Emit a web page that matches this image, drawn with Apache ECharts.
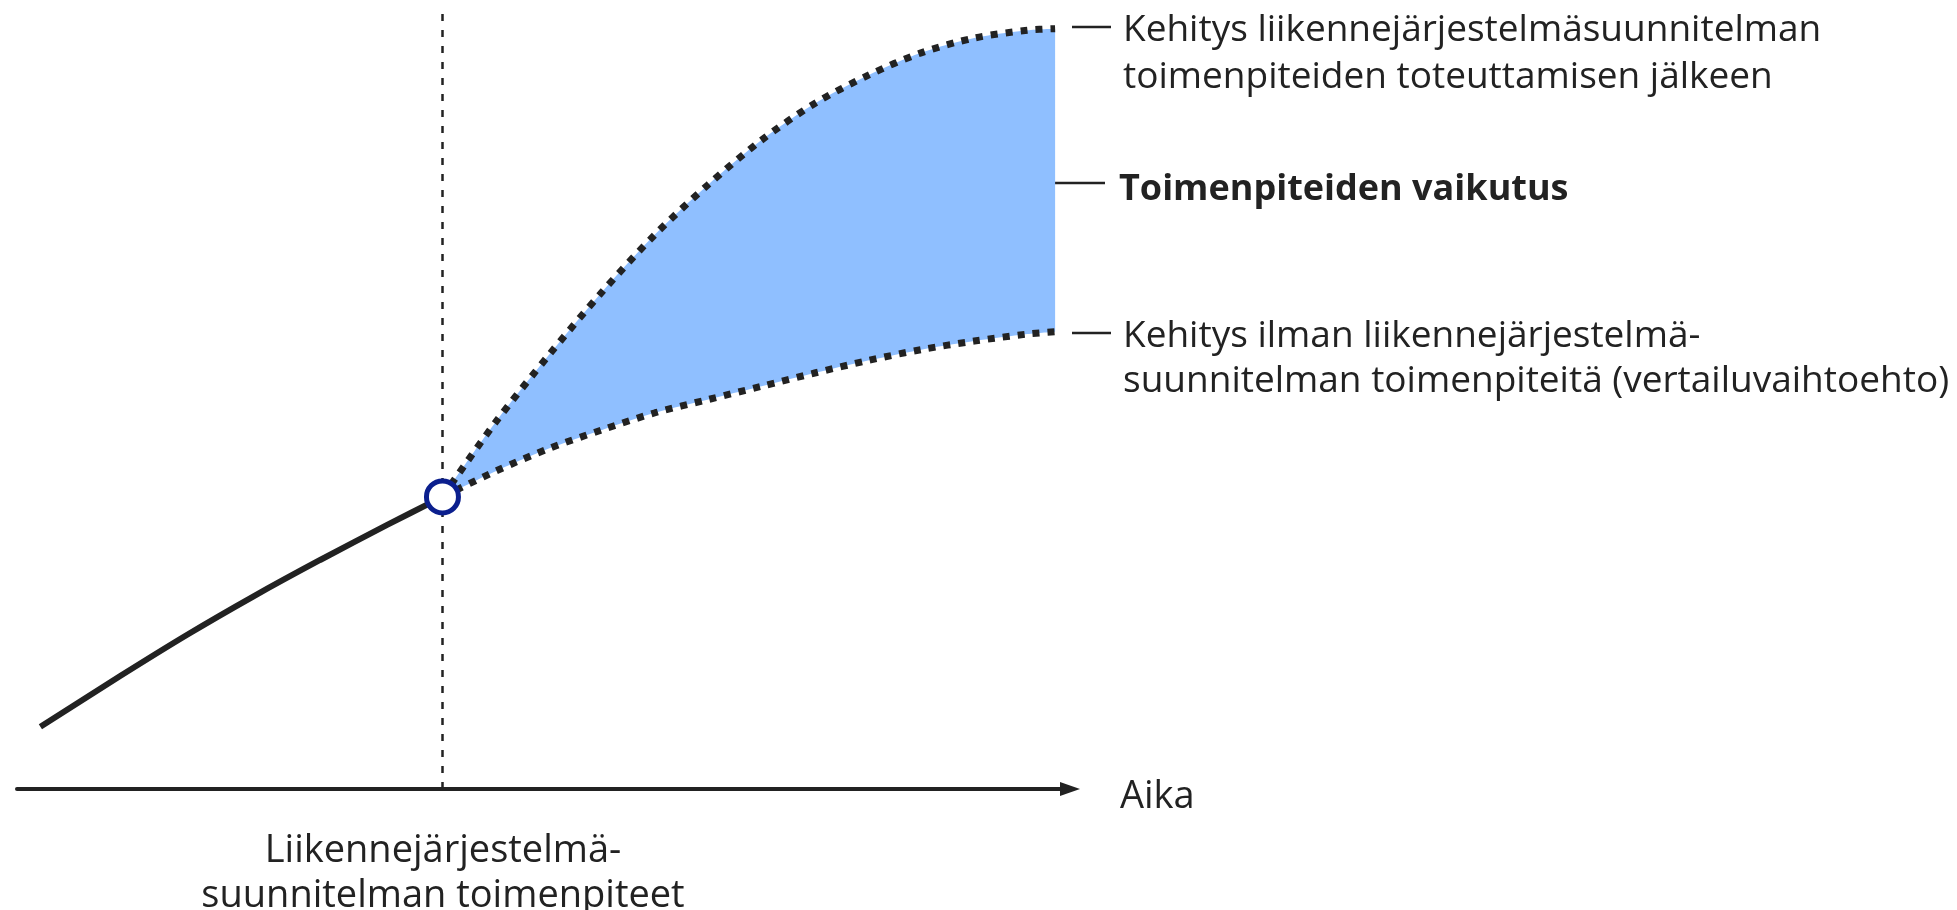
<!DOCTYPE html>
<html>
<head>
<meta charset="utf-8">
<script src="https://cdn.jsdelivr.net/npm/echarts@6/dist/echarts.min.js"></script>
<style>
  html, body { margin: 0; padding: 0; background: #fff; }
  #chart { width: 1957px; height: 910px; }
</style>
</head>
<body>
<div id="chart"></div>
<script>
// development before the plan (solid line)
const histX = [2.2, 9.7, 16.0, 22.2, 28.5, 34.8, 40.0];
const histY = [8.0, 14.5, 19.8, 24.7, 29.4, 33.9, 37.5];
// after the plan: two scenarios
const futureX = [40, 45, 50, 55, 60, 65, 70, 75, 80, 85, 90, 95, 97.6];
const planY = [37.5, 47.1, 55.7, 63.8, 71.2, 77.6, 83.3, 88.0, 91.6, 94.5, 96.4, 97.4, 97.6];
const baseY = [37.5, 40.8, 43.7, 46.1, 48.3, 50.0, 51.7, 53.4, 55.0, 56.4, 57.5, 58.4, 58.7];
const planStart = 40;

const zip = (xs, ys) => xs.map((x, i) => [x, ys[i]]);

const ink = '#222222';
const font = '"Open Sans", sans-serif';

let myChart = echarts.init(document.getElementById('chart'));

const dotted = {
  type: 'line',
  smooth: 0.3,
  showSymbol: false,
  silent: true,
  z: 4,
  lineStyle: { color: ink, width: 7, type: [7, 8], cap: 'butt' }
};

let option = {
  animation: false,
  grid: { left: 17, right: 887, top: 10, bottom: 121 },
  xAxis: {
    type: 'value', min: 0, max: 99, z: 10,
    axisLine: { show: true, lineStyle: { color: ink, width: 4 }, symbol: ['none', 'triangle'], symbolSize: [14, 20] },
    axisTick: { show: false }, axisLabel: { show: false }, splitLine: { show: false }
  },
  yAxis: {
    type: 'value', min: 0, max: 100, show: false
  },
  series: [
    {
      type: 'line',
      data: zip(histX, histY),
      smooth: 0.3,
      showSymbol: false,
      silent: true,
      z: 5,
      lineStyle: { color: ink, width: 6 },
      markLine: {
        silent: true,
        symbol: ['none', 'none'],
        label: { show: false },
        lineStyle: { color: ink, width: 2.5, type: [7, 9] },
        data: [{ xAxis: planStart }]
      }
    },
    // band: value first, time second, so that the value dimension is the stacked one
    {
      type: 'line',
      stack: 'band',
      encode: { x: 1, y: 0 },
      data: futureX.map((x, i) => [baseY[i], x]),
      smooth: 0.3,
      showSymbol: false,
      silent: true,
      z: 1,
      lineStyle: { opacity: 0 }
    },
    {
      type: 'line',
      stack: 'band',
      encode: { x: 1, y: 0 },
      data: futureX.map((x, i) => [planY[i] - baseY[i], x]),
      smooth: 0.3,
      showSymbol: false,
      silent: true,
      z: 2,
      lineStyle: { opacity: 0 },
      areaStyle: { color: '#8fbfff', opacity: 1 }
    },
    Object.assign({}, dotted, { data: zip(futureX, planY) }),
    Object.assign({}, dotted, { data: zip(futureX, baseY) }),
    {
      type: 'scatter',
      data: [[planStart, baseY[0]]],
      symbol: 'circle',
      symbolSize: 32,
      silent: true,
      z: 6,
      itemStyle: { color: '#ffffff', borderColor: '#0b1f8e', borderWidth: 5, opacity: 1 }
    }
  ],
  graphic: [
    { type: 'line', shape: { x1: 1072, y1: 27, x2: 1111, y2: 27 }, style: { stroke: ink, lineWidth: 2.5 } },
    { type: 'text', x: 1123, y: 7, style: {
        text: 'Kehitys liikennejärjestelmäsuunnitelman\ntoimenpiteiden toteuttamisen jälkeen',
        font: '37px ' + font, fill: ink, lineHeight: 47, textVerticalAlign: 'top' } },
    { type: 'line', shape: { x1: 1037, y1: 183, x2: 1105, y2: 183 }, style: { stroke: ink, lineWidth: 2.5 } },
    { type: 'text', x: 1119, y: 190, style: {
        text: 'Toimenpiteiden vaikutus',
        font: 'bold 36px ' + font, fill: ink, textVerticalAlign: 'middle' } },
    { type: 'line', shape: { x1: 1072, y1: 333, x2: 1111, y2: 333 }, style: { stroke: ink, lineWidth: 2.5 } },
    { type: 'text', x: 1123, y: 314, style: {
        text: 'Kehitys ilman liikennejärjestelmä-\nsuunnitelman toimenpiteitä (vertailuvaihtoehto)',
        font: '37px ' + font, fill: ink, lineHeight: 45, textVerticalAlign: 'top' } },
    { type: 'text', x: 1120, y: 797, style: {
        text: 'Aika', font: '38px ' + font, fill: ink, textVerticalAlign: 'middle' } },
    { type: 'text', x: 443, y: 829, style: {
        text: 'Liikennejärjestelmä-\nsuunnitelman toimenpiteet',
        font: '38px ' + font, fill: ink, lineHeight: 45, textAlign: 'center', textVerticalAlign: 'top' } }
  ]
};

myChart.setOption(option);
</script>
</body>
</html>
